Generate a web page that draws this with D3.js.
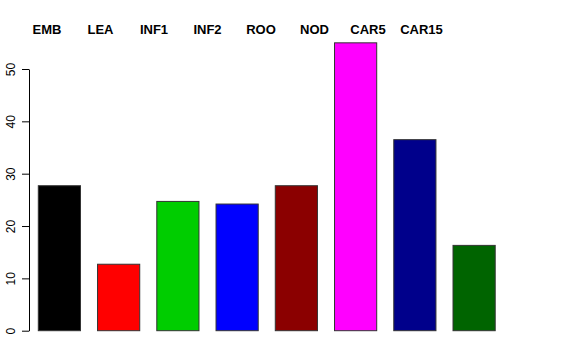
<!DOCTYPE html>
<html>
<head>
<meta charset="utf-8">
<script src="https://cdn.jsdelivr.net/npm/d3@7"></script>
<style>
  html, body { margin: 0; padding: 0; background: #fff; }
  svg { display: block; font-family: "Liberation Sans", Arial, sans-serif; }
</style>
</head>
<body>
<svg id="chart" width="576" height="360"></svg>
<script>
const categories = ['EMB', 'LEA', 'INF1', 'INF2', 'ROO', 'NOD', 'CAR5', 'CAR15'];
const values = [27.7, 12.7, 24.7, 24.2, 27.7, 55.0, 36.5, 16.3];
const barColors = ['#000000', '#ff0000', '#00cd00', '#0000ff', '#8b0000', '#ff00ff', '#00008b', '#006400'];
const yTicks = [0, 10, 20, 30, 40, 50];

const width = 576;
const height = 360;
const axisX = 29;

const svg = d3.select('#chart');

/* y scale: 0 at bottom of bars, 50 at top tick */
const yScale = d3.scaleLinear()
    .domain([0, 50])
    .range([330.7, 69]);

/* bars */
const xScale = d3.scaleBand()
    .domain(categories)
    .range([38.3, 495.2])
    .paddingInner(0.288)
    .paddingOuter(0);

/* labels along the top sit at their own positions */
const labelScale = d3.scalePoint()
    .domain(categories)
    .range([47, 421.5]);

/* y axis */
const yAxis = d3.axisLeft(yScale)
    .tickValues(yTicks)
    .tickSizeInner(7)
    .tickSizeOuter(0)
    .tickPadding(3);

const gy = svg.append('g')
    .attr('transform', `translate(${axisX}, 0)`)
    .call(yAxis);
gy.select('.domain').attr('stroke', '#000').attr('stroke-width', 1);
gy.selectAll('.tick line').attr('stroke', '#000');
gy.selectAll('.tick text')
    .attr('font-size', 12)
    .attr('font-family', '"Liberation Sans", Arial, sans-serif')
    .attr('fill', '#000')
    .attr('text-anchor', 'middle')
    .attr('x', null)
    .attr('y', 0)
    .attr('dy', null)
    .attr('transform', 'translate(-14, 0) rotate(-90)');

/* bars */
svg.selectAll('rect.bar')
    .data(values).enter()
    .append('rect')
    .attr('class', 'bar')
    .attr('x', (d, i) => xScale(categories[i]))
    .attr('y', d => yScale(d))
    .attr('width', xScale.bandwidth())
    .attr('height', d => yScale(0) - yScale(d))
    .attr('fill', (d, i) => barColors[i])
    .attr('stroke', '#333')
    .attr('stroke-width', 1);

/* labels on top */
svg.selectAll('text.label')
    .data(categories).enter()
    .append('text')
    .attr('class', 'label')
    .attr('x', d => labelScale(d))
    .attr('y', 34)
    .attr('text-anchor', 'middle')
    .attr('font-weight', 'bold')
    .attr('font-size', 13)
    .text(d => d);
</script>
</body>
</html>
